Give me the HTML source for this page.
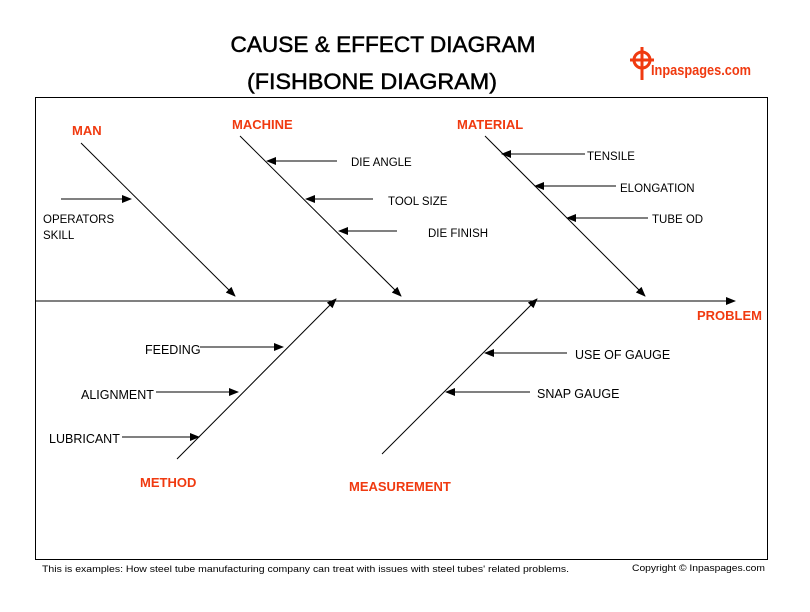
<!DOCTYPE html>
<html><head><style>
body{margin:0;background:#fff;width:810px;height:607px;overflow:hidden}
svg text{font-family:"Liberation Sans",sans-serif}
</style></head><body>
<svg width="810" height="607" viewBox="0 0 810 607">
<defs><marker id="a" markerWidth="10" markerHeight="8" refX="9" refY="4" orient="auto" markerUnits="userSpaceOnUse"><path d="M0,0 L10,4 L0,8 z" fill="#000"/></marker></defs>
<text x="383" y="52" font-size="22" text-anchor="middle" fill="#000" stroke="#000" stroke-width="0.5" textLength="305" lengthAdjust="spacingAndGlyphs">CAUSE &amp; EFFECT DIAGRAM</text>
<text x="372" y="89" font-size="22" text-anchor="middle" fill="#000" stroke="#000" stroke-width="0.5" textLength="250" lengthAdjust="spacingAndGlyphs">(FISHBONE DIAGRAM)</text>
<g fill="none" stroke="#f03a10" stroke-width="3"><circle cx="642" cy="60" r="8"/><line x1="642" y1="47" x2="642" y2="80"/><line x1="630" y1="60" x2="654" y2="60"/></g>
<text x="651" y="75" font-size="15" font-weight="bold" fill="#f03a10" textLength="100" lengthAdjust="spacingAndGlyphs">Inpaspages.com</text>
<rect x="35.5" y="97.5" width="732" height="462" fill="none" stroke="#000"/>
<g stroke="#000" stroke-width="1" fill="none" marker-end="url(#a)">
<line x1="35" y1="301" x2="735" y2="301"/>
<line x1="81" y1="143" x2="235" y2="296"/>
<line x1="240" y1="136" x2="401" y2="296"/>
<line x1="485" y1="136" x2="645" y2="296"/>
<line x1="177" y1="459" x2="336" y2="299"/>
<line x1="382" y1="454" x2="537" y2="299"/>
<line x1="61" y1="199" x2="131" y2="199"/>
<line x1="337" y1="161" x2="267" y2="161"/>
<line x1="373" y1="199" x2="306" y2="199"/>
<line x1="397" y1="231" x2="339" y2="231"/>
<line x1="585" y1="154" x2="502" y2="154"/>
<line x1="616" y1="186" x2="535" y2="186"/>
<line x1="648" y1="218" x2="567" y2="218"/>
<line x1="200" y1="347" x2="283" y2="347"/>
<line x1="156" y1="392" x2="238" y2="392"/>
<line x1="122" y1="437" x2="199" y2="437"/>
<line x1="567" y1="353" x2="485" y2="353"/>
<line x1="530" y1="392" x2="446" y2="392"/>
</g>
<g font-size="13" font-weight="bold" fill="#f03a10">
<text x="72" y="135">MAN</text>
<text x="232" y="129">MACHINE</text>
<text x="457" y="129">MATERIAL</text>
<text x="697" y="320">PROBLEM</text>
<text x="140" y="487">METHOD</text>
<text x="349" y="491">MEASUREMENT</text>
</g>
<g font-size="11.5" fill="#000">
<text x="43" y="223">OPERATORS</text>
<text x="43" y="239">SKILL</text>
<text x="351" y="166">DIE ANGLE</text>
<text x="388" y="205">TOOL SIZE</text>
<text x="428" y="237">DIE FINISH</text>
<text x="587" y="160">TENSILE</text>
<text x="620" y="192">ELONGATION</text>
<text x="652" y="223">TUBE OD</text>
<text x="145" y="354" font-size="12.5">FEEDING</text>
<text x="81" y="399" font-size="12.5">ALIGNMENT</text>
<text x="49" y="443" font-size="12.5">LUBRICANT</text>
<text x="575" y="359" font-size="12.5">USE OF GAUGE</text>
<text x="537" y="398" font-size="12.5">SNAP GAUGE</text>
</g>
<text x="42" y="572" font-size="9.5" fill="#000" textLength="527" lengthAdjust="spacingAndGlyphs">This is examples: How steel tube manufacturing company can treat with issues with steel tubes' related problems.</text>
<text x="632" y="571" font-size="9.5" fill="#000" textLength="133" lengthAdjust="spacingAndGlyphs">Copyright © Inpaspages.com</text>
</svg>
</body></html>
